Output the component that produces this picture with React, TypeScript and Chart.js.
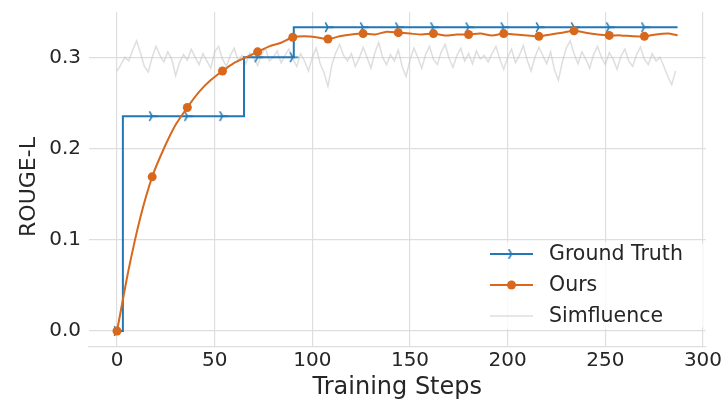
import React, { useEffect, useRef } from 'react';
import { Chart, registerables } from 'chart.js';

Chart.register(...registerables);

// ---------- data ----------
const X_TICKS = [0, 50, 100, 150, 200, 250, 300];
const Y_TICKS = [0, 0.1, 0.2, 0.3];
const X_LIMITS = [-14.35, 301.35];
const Y_LIMITS = [-0.01665, 0.34965];

const SERIES_LABELS = ['Ground Truth', 'Ours', 'Simfluence'];
const X_TITLE = 'Training Steps';
const Y_TITLE = 'ROUGE-L';

// Ground truth is a step function: level changes at these steps
const GT_STEP_X = [0, 3, 65, 90.5, 287];
const GT_STEP_Y = [0, 0.2355, 0.3, 0.333, 0.333];

// marker positions (every 18 training steps)
const MARKER_X = [0, 18, 36, 54, 72, 90, 108, 126, 144, 162, 180, 198, 216, 234, 252, 270];

const OURS_X = [
  0, 6, 12, 18, 24, 30, 36, 42, 48, 54, 60, 66, 72, 78, 84, 90, 96, 102, 108, 114, 120, 126, 132, 138,
  144, 150, 156, 162, 168, 174, 180, 186, 192, 198, 204, 210, 216, 222, 228, 234, 240, 246, 252, 258,
  264, 270, 276, 282, 287,
];
const OURS_Y = [
  0, 0.068, 0.125, 0.169, 0.2, 0.226, 0.245, 0.262, 0.275, 0.285, 0.294, 0.3, 0.306, 0.312, 0.316,
  0.322, 0.323, 0.322, 0.32, 0.323, 0.325, 0.326, 0.325, 0.328, 0.327, 0.326, 0.325, 0.326, 0.324,
  0.325, 0.325, 0.326, 0.324, 0.326, 0.325, 0.324, 0.323, 0.325, 0.327, 0.329, 0.327, 0.325, 0.324,
  0.324, 0.323, 0.323, 0.325, 0.326, 0.324,
];

const SIM_STEP = 2;
const SIM_Y = [
  0.285, 0.292, 0.3, 0.296, 0.308, 0.318, 0.305, 0.29, 0.284, 0.3, 0.312, 0.302, 0.295, 0.306, 0.298,
  0.28, 0.294, 0.303, 0.297, 0.309, 0.3, 0.292, 0.304, 0.296, 0.288, 0.306, 0.312, 0.298, 0.29, 0.302,
  0.31, 0.296, 0.302, 0.293, 0.305, 0.299, 0.291, 0.303, 0.31, 0.296, 0.3, 0.307, 0.294, 0.302, 0.309,
  0.298, 0.29, 0.304, 0.296, 0.285, 0.3, 0.31, 0.293, 0.283, 0.268, 0.292, 0.305, 0.314, 0.302, 0.296,
  0.304, 0.29, 0.299, 0.311, 0.3, 0.288, 0.305, 0.316, 0.3, 0.292, 0.303, 0.296, 0.308, 0.29, 0.279,
  0.297, 0.31, 0.3, 0.288, 0.303, 0.312, 0.298, 0.292, 0.306, 0.314, 0.299, 0.289, 0.302, 0.31, 0.296,
  0.304, 0.293, 0.307, 0.298, 0.302, 0.295, 0.304, 0.312, 0.298, 0.287, 0.3, 0.309, 0.294, 0.302, 0.313,
  0.297, 0.285, 0.3, 0.311, 0.302, 0.293, 0.306, 0.286, 0.275, 0.295, 0.31, 0.318, 0.304, 0.293, 0.306,
  0.298, 0.288, 0.303, 0.312, 0.3, 0.292, 0.305, 0.298, 0.287, 0.301, 0.309, 0.296, 0.29, 0.303, 0.311,
  0.298, 0.292, 0.304, 0.296, 0.3, 0.29, 0.279, 0.27, 0.285,
];

// ---------- styles ----------
const FONT = '"DejaVu Sans", Verdana, sans-serif';
const TEXT = '#262626';
const GRID = '#dedede';
const BLUE = '#2278b5';
const ORANGE = '#d8691c';
const GRAY = 'rgba(195,195,195,0.55)';

function gtLevel(x: number): number {
  let v = GT_STEP_Y[0];
  for (let i = 0; i < GT_STEP_X.length; i++) if (GT_STEP_X[i] <= x) v = GT_STEP_Y[i];
  return v;
}

function makeTri(color: string): HTMLCanvasElement {
  const c = document.createElement('canvas');
  c.width = 14;
  c.height = 14;
  const g = c.getContext('2d')!;
  const r = 5;
  g.strokeStyle = color;
  g.lineWidth = 1.5;
  g.lineCap = 'round';
  g.beginPath();
  g.moveTo(7, 7);
  g.lineTo(7 + r, 7);
  g.moveTo(7, 7);
  g.lineTo(7 - r * 0.5, 7 - r * 0.866);
  g.moveTo(7, 7);
  g.lineTo(7 - r * 0.5, 7 + r * 0.866);
  g.stroke();
  return c;
}

export default function App() {
  const ref = useRef<HTMLCanvasElement | null>(null);

  useEffect(() => {
    if (!ref.current) return;
    const tri = makeTri(BLUE);

    const gtXs = Array.from(new Set([...GT_STEP_X, ...MARKER_X])).sort((a, b) => a - b);
    const gtData = gtXs.map((x) => ({ x, y: gtLevel(x) }));
    const oursData = OURS_X.map((x, i) => ({ x, y: OURS_Y[i] }));
    const simData = SIM_Y.map((y, i) => ({ x: i * SIM_STEP, y }));

    const decorPlugin = {
      id: 'decor',
      afterDraw(chart: any) {
        const ctx = chart.ctx as CanvasRenderingContext2D;
        ctx.save();
        // y-axis title
        ctx.save();
        ctx.translate(29, 187);
        ctx.rotate(-Math.PI / 2);
        ctx.font = `22px ${FONT}`;
        ctx.fillStyle = TEXT;
        ctx.textAlign = 'center';
        ctx.textBaseline = 'middle';
        ctx.fillText(Y_TITLE, 0, 0);
        ctx.restore();

        // legend
        ctx.fillStyle = 'rgba(255,255,255,0.8)';
        ctx.beginPath();
        ctx.roundRect(480, 242, 223, 87, 4);
        ctx.fill();
        const rows = [254, 285, 316];
        const x0 = 490;
        const x1 = 533;
        const xm = (x0 + x1) / 2;
        ctx.font = `20.5px ${FONT}`;
        ctx.textBaseline = 'middle';
        ctx.textAlign = 'left';
        rows.forEach((y, i) => {
          const ds = chart.data.datasets[i];
          ctx.strokeStyle = ds.borderColor;
          ctx.lineWidth = ds.borderWidth;
          ctx.beginPath();
          ctx.moveTo(x0, y);
          ctx.lineTo(x1, y);
          ctx.stroke();
          if (i === 0) ctx.drawImage(tri, xm - tri.width / 2, y - tri.height / 2);
          if (i === 1) {
            ctx.fillStyle = ORANGE;
            ctx.beginPath();
            ctx.arc(xm, y, 4.5, 0, Math.PI * 2);
            ctx.fill();
          }
          ctx.fillStyle = TEXT;
          ctx.fillText(ds.label, 549, y + 1);
        });
        ctx.restore();
      },
    };

    const chart = new Chart(ref.current, {
      type: 'line',
      data: {
        datasets: [
          {
            label: SERIES_LABELS[0],
            data: gtData,
            borderColor: BLUE,
            backgroundColor: BLUE,
            borderWidth: 2,
            stepped: 'before',
            pointStyle: tri as any,
            pointRadius: (c: any) => (MARKER_X.includes(c.raw?.x) ? 5 : 0),
            order: 1,
          },
          {
            label: SERIES_LABELS[1],
            data: oursData,
            borderColor: ORANGE,
            backgroundColor: ORANGE,
            borderWidth: 2,
            tension: 0.25,
            pointStyle: 'circle',
            pointBorderWidth: 0,
            pointRadius: (c: any) => (MARKER_X.includes(c.raw?.x) ? 4.5 : 0),
            order: 0,
          },
          {
            label: SERIES_LABELS[2],
            data: simData,
            borderColor: GRAY,
            backgroundColor: GRAY,
            borderWidth: 1.5,
            pointRadius: 0,
            order: 2,
          },
        ],
      },
      options: {
        responsive: false,
        animation: false,
        events: [],
        layout: { padding: { top: 12, right: 19.4, bottom: 0, left: 0 } },
        plugins: { legend: { display: false }, tooltip: { enabled: false } },
        scales: {
          x: {
            type: 'linear',
            min: X_LIMITS[0],
            max: X_LIMITS[1],
            afterBuildTicks: (s: any) => {
              s.ticks = X_TICKS.map((v) => ({ value: v }));
            },
            afterFit: (s: any) => {
              s.height = 56.8;
              s.paddingLeft = 0;
              s.paddingRight = 0;
            },
            grid: { color: GRID, lineWidth: 1.2, drawTicks: false },
            border: { display: true, color: GRID, width: 1.2 },
            ticks: {
              font: { family: FONT, size: 20 },
              color: TEXT,
              padding: 3,
              maxRotation: 0,
              callback: (v: any) => String(v),
            },
            title: {
              display: true,
              text: X_TITLE,
              color: TEXT,
              font: { family: FONT, size: 24, lineHeight: 1 },
              padding: { top: 0, bottom: 3 },
            },
          },
          y: {
            type: 'linear',
            min: Y_LIMITS[0],
            max: Y_LIMITS[1],
            afterBuildTicks: (s: any) => {
              s.ticks = Y_TICKS.map((v) => ({ value: v }));
            },
            afterFit: (s: any) => {
              s.width = 89;
              s.paddingTop = 0;
              s.paddingBottom = 0;
            },
            grid: { color: GRID, lineWidth: 1.2, drawTicks: false },
            border: { display: false },
            ticks: {
              font: { family: FONT, size: 20 },
              color: TEXT,
              padding: 8,
              callback: (v: any) => Number(v).toFixed(1),
            },
            title: { display: false },
          },
        },
      },
      plugins: [decorPlugin],
    } as any);

    return () => chart.destroy();
  }, []);

  return (
    <div style={{ position: 'absolute', left: 0, top: 0, width: 725, height: 403, background: '#fff' }}>
      <canvas ref={ref} width={725} height={403} style={{ display: 'block' }} />
    </div>
  );
}
